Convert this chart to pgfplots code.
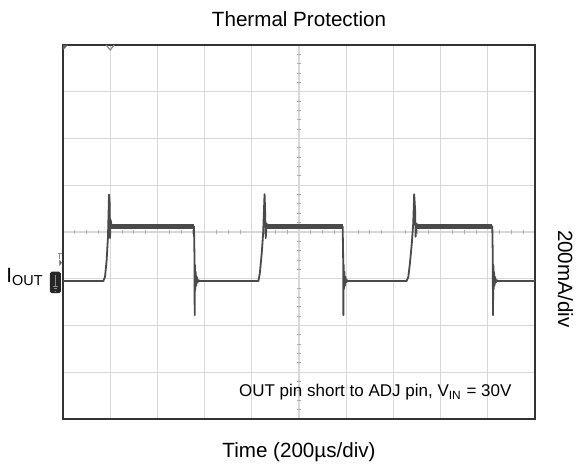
\documentclass[border=0pt]{standalone}
\usepackage{pgfplots}
\pgfplotsset{compat=1.18}
\usepackage{fontspec}
\setmainfont{Liberation Sans}
\definecolor{gridc}{HTML}{D8D8D8}
\definecolor{trace}{HTML}{4A4A4A}
\definecolor{framec}{HTML}{333333}
\definecolor{markc}{HTML}{8C8C8C}

% scope trace, x and y in divisions
\pgfplotstableread{
x y
0 2.95
0.854 2.95
0.89 3.04
0.925 3.40
0.953 3.90
0.975 4.80
0.99 4.61
0.996 3.87
1.01 4.26
1.03 4.12
2.775 4.12
2.785 3.5
2.79 2.22
2.797 3.30
2.803 2.78
2.812 3.15
2.822 2.85
2.835 3.04
2.85 2.92
2.87 2.97
2.89 2.95
4.14 2.95
4.17 3.12
4.21 3.54
4.24 3.97
4.27 4.81
4.28 4.54
4.295 3.87
4.315 4.18
4.33 4.12
5.925 4.12
5.935 3.5
5.94 2.22
5.947 3.30
5.953 2.78
5.962 3.15
5.972 2.85
5.985 3.04
6.0 2.92
6.02 2.97
6.04 2.95
7.28 2.95
7.316 3.04
7.35 3.33
7.39 3.76
7.42 4.18
7.44 4.81
7.46 4.47
7.47 3.90
7.49 4.18
7.51 4.12
9.095 4.12
9.105 3.5
9.11 2.22
9.117 3.30
9.123 2.78
9.132 3.15
9.142 2.85
9.155 3.04
9.17 2.92
9.19 2.97
9.21 2.95
10 2.95
}\tracedata

% noisy high level band
\pgfplotstableread{
x y
1.01 4.12
2.775 4.12
nan nan
4.315 4.12
5.925 4.12
nan nan
7.49 4.12
9.095 4.12
}\highband

\begin{document}
\begin{tikzpicture}
\begin{axis}[
  scale only axis,
  width=236pt, height=187pt,
  xmin=0, xmax=10, ymin=0, ymax=8,
  xtick={1,...,9}, ytick={1,...,7},
  xticklabels={}, yticklabels={},
  major tick length=0pt,
  grid=major,
  major grid style={gridc, line width=0.6pt},
  axis line style={framec, line width=0.9pt},
  unbounded coords=jump,
  clip=false,
]
% small ticks on the centre lines
\pgfplotsinvokeforeach{0.25,0.5,0.75,1.25,1.5,1.75,2.25,2.5,2.75,3.25,3.5,3.75,4.25,4.5,4.75,5.25,5.5,5.75,6.25,6.5,6.75,7.25,7.5,7.75,8.25,8.5,8.75,9.25,9.5,9.75}{
  \draw[gridc!80!black, line width=0.5pt] ([yshift=-1pt]axis cs:#1,4) -- ([yshift=1pt]axis cs:#1,4);
}
\pgfplotsinvokeforeach{0.2,0.4,0.6,0.8,1.2,1.4,1.6,1.8,2.2,2.4,2.6,2.8,3.2,3.4,3.6,3.8,4.2,4.4,4.6,4.8,5.2,5.4,5.6,5.8,6.2,6.4,6.6,6.8,7.2,7.4,7.6,7.8}{
  \draw[gridc!80!black, line width=0.5pt] ([xshift=-1pt]axis cs:5,#1) -- ([xshift=1pt]axis cs:5,#1);
}

\addplot[trace, line width=0.9pt, line join=round, mark=none] table {\tracedata};
\addplot[trace, line width=2.5pt, mark=none] table {\highband};

% scope markers
\fill[markc!70!black] (axis cs:0,8) -- ([xshift=2.6pt]axis cs:0,8) -- ([yshift=-2.6pt]axis cs:0,8) -- cycle;
\draw[markc, line width=0.6pt] ([xshift=-2pt]axis cs:1,8) -- ([yshift=-2.5pt]axis cs:1,8) -- ([xshift=2pt]axis cs:1,8);
\draw[markc, line width=0.5pt] ([xshift=-2.6pt]axis cs:0,3.55) -- ([xshift=-0.6pt]axis cs:0,3.55);
\draw[markc, line width=0.5pt] ([xshift=-1.6pt]axis cs:0,3.55) -- ([xshift=-1.6pt]axis cs:0,3.42);
\fill[markc!70!black] ([xshift=-1.8pt]axis cs:0,3.41) -- ([xshift=-0.6pt]axis cs:0,3.34) -- ([xshift=-1.8pt]axis cs:0,3.27) -- cycle;
\fill[black!85, rounded corners=0.8pt] ([xshift=-6.5pt]axis cs:0,2.69) rectangle ([xshift=-1.1pt]axis cs:0,3.15);
\draw[markc, line width=0.4pt] ([xshift=-3.8pt]axis cs:0,3.07) -- ([xshift=-3.8pt]axis cs:0,2.84);
\draw[markc, line width=0.4pt] ([xshift=-5pt]axis cs:0,2.84) -- ([xshift=-2.6pt]axis cs:0,2.84);
\draw[markc, line width=0.4pt] ([xshift=-4.5pt]axis cs:0,2.79) -- ([xshift=-3.1pt]axis cs:0,2.79);
\draw[markc, line width=0.4pt] ([xshift=-4.1pt]axis cs:0,2.74) -- ([xshift=-3.5pt]axis cs:0,2.74);

% texts
\node[anchor=base, font=\fontsize{10.3}{12}\selectfont] at ([yshift=9pt]rel axis cs:0.5,1) {Thermal Protection};
\node[anchor=base, font=\fontsize{10.3}{12}\selectfont] at ([yshift=-19pt]rel axis cs:0.5,0) {Time (200µs/div)};
\node[anchor=base, rotate=-90, font=\fontsize{10.3}{12}\selectfont] at ([xshift=11.5pt]axis cs:10,3) {200mA/div};
\node[anchor=base east, inner sep=0pt, font=\fontsize{10.3}{12}\selectfont] at ([xshift=-9.5pt]axis cs:0,2.93) {I\textsubscript{OUT}};
\node[anchor=base east, inner sep=0pt, font=\fontsize{8.5}{10}\selectfont] at ([xshift=-11.6pt, yshift=11.1pt]rel axis cs:1,0) {OUT pin short to ADJ pin, V\textsubscript{IN} = 30V};

\coordinate (sw) at (rel axis cs:0,0);
\coordinate (ne) at (rel axis cs:1,1);
\end{axis}
\pgfresetboundingbox
\path[use as bounding box] ([shift={(-31.5pt,-23.5pt)}]sw) rectangle ([shift={(20.5pt,22.5pt)}]ne);
\end{tikzpicture}
\end{document}
